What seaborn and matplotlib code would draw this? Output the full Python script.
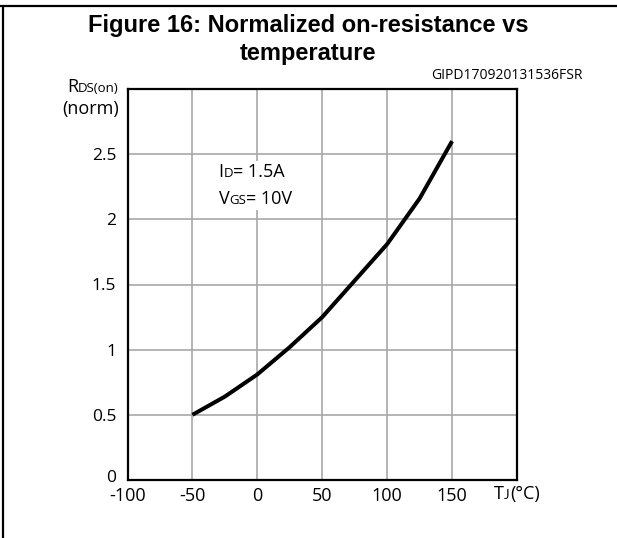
import matplotlib
matplotlib.use("Agg")
import matplotlib.pyplot as plt
import matplotlib.transforms as mtransforms
import seaborn as sns
import pandas as pd
from matplotlib.lines import Line2D
from matplotlib.offsetbox import TextArea, HPacker, VPacker, AnnotationBbox

# curve
temp_c = [-50, -25, 0, 25, 50, 75, 100, 125, 150]
rds_norm = [0.50, 0.64, 0.81, 1.02, 1.25, 1.53, 1.81, 2.16, 2.60]

x_ticks = [-100, -50, 0, 50, 100, 150, 200]
x_labels = ["-100", "-50", "0", "50", "100", "150", ""]
y_ticks = [0, 0.5, 1, 1.5, 2, 2.5, 3]
y_labels = ["0", "0.5", "1", "1.5", "2", "2.5", ""]

title_1 = "Figure 16: Normalized on-resistance vs"
title_2 = "temperature"
code = "GIPD170920131536FSR"

FONT = "Open Sans"

sns.set_style("white")
plt.rcParams["font.family"] = [FONT, "DejaVu Sans"]
plt.rcParams["text.color"] = "black"
plt.rcParams["xtick.color"] = "black"
plt.rcParams["ytick.color"] = "black"
plt.rcParams["axes.labelcolor"] = "black"

df = pd.DataFrame({"T": temp_c, "R": rds_norm})

W, H = 617, 538
fig = plt.figure(figsize=(W / 100, H / 100), dpi=100)
ax = fig.add_axes([127.5 / W, 1 - 480 / H, 389.5 / W, 391 / H])

sns.lineplot(data=df, x="T", y="R", ax=ax, color="black", linewidth=2.9,
             solid_capstyle="butt", zorder=4)

ax.set_xlim(-100, 200)
ax.set_ylim(0, 3)
ax.set_xticks(x_ticks)
ax.set_xticklabels(x_labels, fontsize=13)
ax.set_yticks(y_ticks)
ax.set_yticklabels(y_labels, fontsize=12.5)
ax.tick_params(axis="x", length=0, pad=5)
ax.tick_params(axis="y", length=0, pad=8)
ax.set_xlabel("")
ax.set_ylabel("")
ax.grid(True, color="#a8a8a8", linewidth=1.2)
ax.set_axisbelow(True)
for s in ax.spines.values():
    s.set_visible(True)
    s.set_color("black")
    s.set_linewidth(1.6)

# the "0" of the y axis sits a little above the corner in the original
lab0 = ax.get_yticklabels()[0]
lab0.set_transform(lab0.get_transform() +
                   mtransforms.ScaledTranslation(0, 4 / 100, fig.dpi_scale_trans))


def mixed(parts):
    # text pieces on one baseline, smaller size for the subscript-ish letters
    areas = []
    for p in parts:
        t, sz = p[0], p[1]
        fam = p[2] if len(p) > 2 else FONT
        areas.append(TextArea(t, textprops=dict(fontsize=sz, family=fam, color="black")))
    return HPacker(children=areas, align="baseline", pad=0, sep=0)


def place(box, xy, coords, align, white=False):
    ab = AnnotationBbox(box, xy, xycoords=coords, box_alignment=align,
                        frameon=white, pad=0.15, annotation_clip=False,
                        bboxprops=dict(facecolor="white", edgecolor="none"))
    ab.set_zorder(5)
    ax.add_artist(ab)


# conditions box
cond = VPacker(children=[mixed([("I", 13), ("D", 9.5), ("= 1.5A", 13)]),
                         mixed([("V", 13), ("GS", 9.5), ("= 10V", 13)])],
               align="left", pad=0, sep=6)
place(cond, (-1.5, 2.26), "data", (0.5, 0.5), white=True)

# y axis label
place(mixed([("R", 13), ("DS(on)", 9.5)]), (-0.022, 1.006), "axes fraction", (1, 0.5))
place(mixed([("(norm)", 13)]), (-0.022, 0.948), "axes fraction", (1, 0.5))

# x axis label sits where the 200 tick would be
place(mixed([("T", 13), ("J", 9.5, "Lato"), ("(°C)", 13)]), (1.0, -0.036),
      "axes fraction", (0.5, 0.5))

fig.text(0.5, 1 - 32 / H, title_1, ha="center", va="baseline", fontsize=17,
         fontweight="bold", family="Liberation Sans")
fig.text(0.5, 1 - 60 / H, title_2, ha="center", va="baseline", fontsize=17,
         fontweight="bold", family="Liberation Sans")
fig.text(582 / W, 1 - 75 / H, code, ha="right", va="center", fontsize=10, family=FONT)

# page frame: top and left rules only
fig.add_artist(Line2D([0, 1], [1 - 6 / H, 1 - 6 / H], transform=fig.transFigure,
                      color="black", linewidth=1.6))
fig.add_artist(Line2D([2.5 / W, 2.5 / W], [0, 1 - 6 / H], transform=fig.transFigure,
                      color="black", linewidth=1.6))

fig.savefig("out.png", dpi=100)
